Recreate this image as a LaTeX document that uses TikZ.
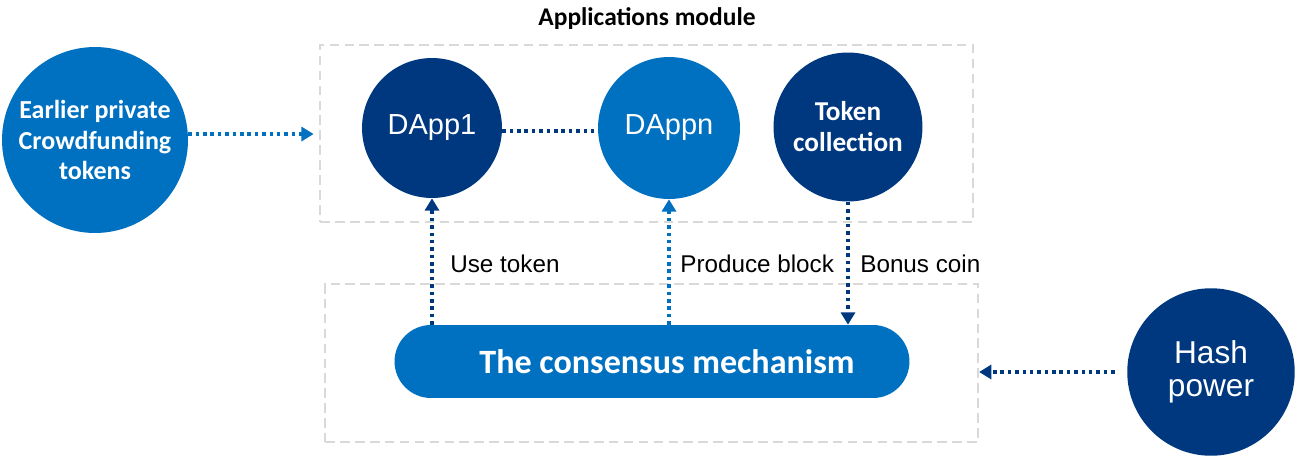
\documentclass[tikz,border=0pt]{standalone}
\usepackage{fontspec}
\setmainfont{Liberation Sans}
\newfontfamily\calibfont{Carlito}
\usepackage{tikz}
\usetikzlibrary{arrows.meta}
\usetikzlibrary{positioning}
\definecolor{midblue}{RGB}{0,112,192}
\definecolor{darkblue}{RGB}{0,56,128}
\definecolor{boxgray}{RGB}{217,217,217}
\tikzset{
  bubble/.style = {circle, inner sep=0pt, align=center, text=white},
  bubble_m/.style = {bubble, fill=midblue},% bulle bleu moyen
  bubble_d/.style = {bubble, fill=darkblue},% bulle bleu fonce
  modbox/.style = {rectangle, inner sep=0pt, draw=boxgray, line width=1.3pt,
    dash pattern=on 5.5pt off 3pt},% cadre de module
  dots_m/.style = {midblue, line width=2pt, dash pattern=on 2pt off 2.2pt},
  dots_d/.style = {darkblue, line width=2pt, dash pattern=on 2pt off 2.2pt},
  lbl/.style = {anchor=base west, inner sep=0pt,
    font=\fontsize{13.8}{16}\selectfont}% texte des fleches
}

\begin{document}
\begin{tikzpicture}[x=0.02cm,y=-0.02cm,>={Triangle[length=7pt,width=8pt]}]
\useasboundingbox (0,0) rectangle (1303,457);
% modules
\node [modbox, minimum width=13.06cm, minimum height=3.54cm] (appbox) at (646.5,133.5) {};
\node [modbox, minimum width=13.06cm, minimum height=3.16cm] (basebox) at (651.5,363) {};
\node [anchor=base, font=\calibfont\bfseries\fontsize{14.5}{17}\selectfont] (apptitle) at (647,25) {Applications module};
% bulles
\node [bubble_m, minimum size=3.72cm, font=\calibfont\bfseries\fontsize{14.8}{17.5}\selectfont] (crowd) at (95,140) {Earlier private\\Crowdfunding\\tokens};
\node [bubble_d, minimum size=2.8cm, font=\fontsize{16.5}{19}\selectfont] (dapp1) at (432,128) {DApp1};
\node [bubble_m, minimum size=2.84cm, font=\fontsize{16.5}{19}\selectfont] (dappn) at (669,128) {DAppn};
\node [bubble_d, minimum size=2.98cm, font=\calibfont\bfseries\fontsize{15.5}{17.6}\selectfont] (token) at (848,127) {Token\\collection};
\node [bubble_d, minimum size=3.35cm, font=\fontsize{18}{19}\selectfont] (hash) at (1211,372) {Hash\\power};
\node [rectangle, fill=midblue, text=white, rounded corners=0.73cm, minimum width=10.3cm,
  minimum height=1.46cm, font=\calibfont\bfseries\fontsize{19.4}{22}\selectfont] (consensus) at (652,361.5) {\hspace*{0.6cm}The consensus mechanism};
% liens
\draw [dots_m, ->, shorten >=3pt] ([yshift=3.4pt]crowd.east) -- ([yshift=3.4pt]crowd.east -| appbox.west);
\draw [dots_d] ([yshift=-1.7pt]dapp1.east) -- ([yshift=-1.7pt]dappn.west);
\draw [dots_d, ->] (consensus.north -| dapp1) -- (dapp1.south);
\draw [dots_m, ->] (consensus.north -| dappn) -- (dappn.south);
\draw [dots_d, ->] (token.south) -- (token.south |- consensus.north);
\draw [dots_d, ->, shorten <=7pt] (hash.west) -- (hash.west -| basebox.east);
% etiquettes
\node [lbl] (usetok) at (450,272) {Use token};
\node [lbl] (prodblk) at (680,272) {Produce block};
\node [lbl] (bonus) at (860,272) {Bonus coin};
\end{tikzpicture}
\end{document}
